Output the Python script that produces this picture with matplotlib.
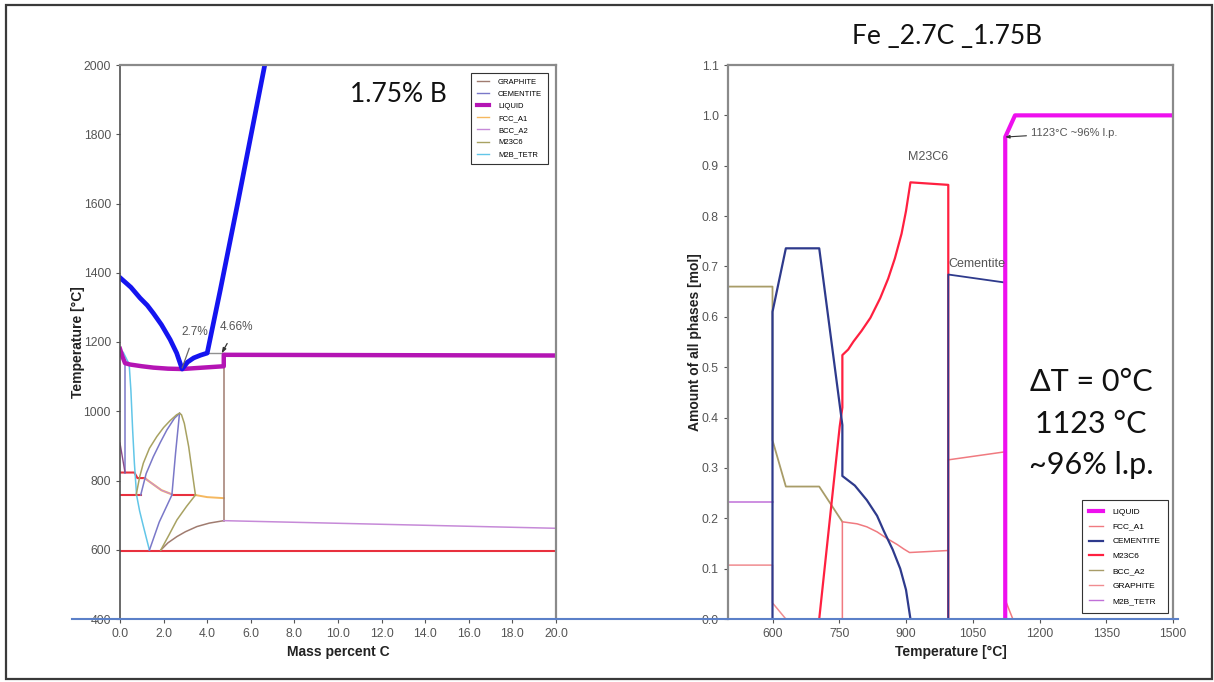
import matplotlib
matplotlib.use("Agg")
import matplotlib.pyplot as plt
from matplotlib.lines import Line2D
from matplotlib.patches import Rectangle

plt.rcParams['font.family'] = ['Liberation Sans', 'DejaVu Sans']

# ---------------- isopleth: Fe-1.75B vs. mass percent C ----------------
liquidus_c = [0.0, 0.5, 0.92, 1.25, 1.53, 1.9, 2.30, 2.6, 2.85, 3.1, 3.38, 3.7, 4.0, 4.6, 5.38, 6.64]
liquidus_t = [1386, 1358, 1327, 1306, 1283, 1250, 1207, 1168, 1122, 1142, 1154, 1162, 1168, 1350, 1595, 2000]

liq_c = [0.0, 0.1, 0.23, 0.46, 1.0, 1.53, 2.2, 2.85, 3.8, 4.76, 4.76, 12.0, 20.0]
liq_t = [1180, 1160, 1139, 1135, 1130, 1126, 1123, 1122, 1126, 1130, 1163, 1162, 1161]

eut_c = [4.0, 4.76]
eut_t = [1167, 1167]

inv597_c = [0.0, 20.0]
inv597_t = [597, 597]
inv823_c = [0.0, 0.66, 0.8, 1.15]
inv823_t = [823, 823, 807, 807]
inv758a_c = [0.0, 0.95]
inv758a_t = [758, 758]
inv758b_c = [2.38, 3.46]
inv758b_t = [758, 758]
slope_c = [1.15, 1.5, 1.9, 2.38]
slope_t = [806, 790, 772, 760]

fcc_c = [3.46, 4.0, 4.76]
fcc_t = [758, 752, 749]

gra_vert_c = [4.76, 4.76]
gra_vert_t = [684, 1130]
gra_curve_c = [1.87, 2.2, 2.61, 3.0, 3.53, 4.1, 4.76]
gra_curve_t = [599, 620, 638, 652, 667, 677, 684]

bcc_c = [4.76, 20.0]
bcc_t = [684, 662]

m2b_c = [0.15, 0.42, 0.50, 0.58, 0.66, 0.76, 0.9, 1.04, 1.2, 1.35]
m2b_t = [1170, 1136, 1060, 946, 850, 758, 712, 676, 636, 599]

cem_v_c = [0.23, 0.23]
cem_v_t = [1136, 823]
cem_s_c = [0.0, 0.23]
cem_s_t = [908, 823]
cem1_c = [1.35, 1.8, 2.38]
cem1_t = [599, 680, 758]
cem2_c = [2.38, 2.55, 2.73]
cem2_t = [758, 880, 994]
cem3_c = [0.95, 1.2, 1.53, 1.85, 2.15, 2.5, 2.73]
cem3_t = [758, 820, 869, 910, 946, 980, 994]

m23_1_c = [0.74, 0.9, 1.07, 1.35, 1.69, 2.0, 2.30, 2.6, 2.73]
m23_1_t = [758, 810, 850, 893, 927, 953, 973, 990, 994]
m23_2_c = [2.73, 2.82, 2.95, 3.15, 3.3, 3.46]
m23_2_t = [994, 990, 965, 898, 830, 758]
m23_3_c = [1.87, 2.25, 2.61, 3.05, 3.46]
m23_3_t = [599, 643, 686, 725, 758]

left_xticks = [0, 2, 4, 6, 8, 10, 12, 14, 16, 18, 20]
left_yticks = [400, 600, 800, 1000, 1200, 1400, 1600, 1800, 2000]

# ---------------- step diagram: Fe_2.7C_1.75B phase amounts ----------------
liq_T = [1123, 1123, 1145, 1500]
liq_n = [0.0, 0.957, 1.0, 1.0]

fcc_T = [757, 757, 790, 812, 835, 857, 880, 895, 908, 995, 995, 1123, 1123, 1140]
fcc_n = [0.0, 0.193, 0.189, 0.183, 0.173, 0.160, 0.148, 0.139, 0.132, 0.136, 0.316, 0.332, 0.038, 0.0]

cem_a_T = [600, 600, 630, 705, 757, 757, 785, 812, 835, 850, 870, 887, 900, 910]
cem_a_n = [0.0, 0.61, 0.736, 0.736, 0.385, 0.284, 0.265, 0.236, 0.205, 0.175, 0.138, 0.100, 0.058, 0.0]
cem_b_T = [995, 995, 1123, 1123]
cem_b_n = [0.0, 0.684, 0.668, 0.0]

m23_T = [705, 751, 757, 757, 770, 782, 800, 820, 842, 860, 875, 890, 900, 910, 995, 995]
m23_n = [0.0, 0.382, 0.42, 0.524, 0.535, 0.551, 0.572, 0.598, 0.637, 0.676, 0.716, 0.765, 0.81, 0.867, 0.862, 0.0]

bcc_T = [500, 600, 600, 630, 705, 757]
bcc_n = [0.66, 0.66, 0.355, 0.263, 0.263, 0.193]

gra_T = [500, 600, 600, 630]
gra_n = [0.107, 0.107, 0.032, 0.0]

m2b_T = [500, 600]
m2b_n = [0.232, 0.232]

right_xticks = [600, 750, 900, 1050, 1200, 1350, 1500]
right_yticks = [0.0, 0.1, 0.2, 0.3, 0.4, 0.5, 0.6, 0.7, 0.8, 0.9, 1.0, 1.1]

W, H = 1214, 682
fig = plt.figure(figsize=(W / 100, H / 100), dpi=100)

def box(x0, y0, x1, y1):
    return [x0 / W, 1 - y1 / H, (x1 - x0) / W, (y1 - y0) / H]

ax1 = fig.add_axes(box(120, 65, 556, 619))
ax2 = fig.add_axes(box(728, 65, 1173, 619))

tick_col = '#555555'
for ax in (ax1, ax2):
    ax.tick_params(axis='both', colors=tick_col, labelcolor=tick_col,
                   length=3, width=0.8, labelsize=8.8, direction='out')
    for s in ('top', 'right', 'left'):
        ax.spines[s].set_color('#8a8a8a')
        ax.spines[s].set_linewidth(1.6)
    ax.spines['bottom'].set_visible(False)

# colours
C_GRA = '#a07c70'
C_CEM = '#7a78c8'
C_LIQ = '#b414b4'
C_FCC = '#f5b860'
C_BCC = '#c68ad8'
C_M23 = '#a8a262'
C_M2B = '#62c6e8'
C_RED = '#e8303e'

ax1.plot(inv597_c, inv597_t, color=C_RED, lw=1.5)
ax1.plot(inv823_c, inv823_t, color=C_RED, lw=1.5)
ax1.plot(inv758a_c, inv758a_t, color=C_RED, lw=1.5)
ax1.plot(inv758b_c, inv758b_t, color=C_RED, lw=1.5)
ax1.plot(slope_c, slope_t, color=C_FCC, lw=1.6)
ax1.plot(slope_c, slope_t, color=C_BCC, lw=0.8)
ax1.plot(fcc_c, fcc_t, color=C_FCC, lw=1.4)
ax1.plot(gra_vert_c, gra_vert_t, color=C_GRA, lw=1.1)
ax1.plot(gra_curve_c, gra_curve_t, color=C_GRA, lw=1.1)
ax1.plot(bcc_c, bcc_t, color=C_BCC, lw=1.1)
ax1.plot(m2b_c, m2b_t, color=C_M2B, lw=1.1)
ax1.plot(cem_v_c, cem_v_t, color=C_CEM, lw=1.1)
ax1.plot(cem_s_c, cem_s_t, color='#8a4a8a', lw=1.0)
for cc, tt in ((cem1_c, cem1_t), (cem2_c, cem2_t), (cem3_c, cem3_t)):
    ax1.plot(cc, tt, color=C_CEM, lw=1.1)
for cc, tt in ((m23_1_c, m23_1_t), (m23_2_c, m23_2_t), (m23_3_c, m23_3_t)):
    ax1.plot(cc, tt, color=C_M23, lw=1.1)
ax1.plot(eut_c, eut_t, color='#909090', lw=1.0)
ax1.plot(liq_c, liq_t, color=C_LIQ, lw=3.2, solid_joinstyle='round')
ax1.plot(liquidus_c, liquidus_t, color='#1414f0', lw=3.4, solid_joinstyle='round')

ax1.annotate('2.7%', xy=(2.85, 1125), xytext=(2.84, 1230), fontsize=8.5,
             color='#555555', ha='left', va='center',
             arrowprops=dict(arrowstyle='-', color='#666666', lw=0.9,
                             shrinkA=6, shrinkB=0))
ax1.annotate('4.66%', xy=(4.66, 1167), xytext=(4.56, 1242), fontsize=8.5,
             color='#555555', ha='left', va='center',
             arrowprops=dict(arrowstyle='-|>,head_length=0.35,head_width=0.12',
                             color='#333333', lw=0.9, shrinkA=6, shrinkB=0))

ax1.set_xlim(0, 20)
ax1.set_ylim(400, 2000)
ax1.set_xticks(left_xticks)
ax1.set_xticklabels([f'{v:.1f}' for v in left_xticks])
ax1.set_yticks(left_yticks)
ax1.set_yticklabels([str(v) for v in left_yticks])
ax1.spines['left'].set_color('#505050')
ax1.spines['left'].set_linewidth(1.2)
ax1.set_xlabel('Mass percent C', fontsize=10, fontweight='bold', color='#222222')
ax1.set_ylabel('Temperature [°C]', fontsize=10, fontweight='bold', color='#222222')
ax1.xaxis.set_label_coords(0.5, -0.047)
ax1.yaxis.set_label_coords(-0.08, 0.5)

h1 = [Line2D([], [], color=C_GRA, lw=1.0), Line2D([], [], color=C_CEM, lw=1.0),
      Line2D([], [], color=C_LIQ, lw=3.0), Line2D([], [], color=C_FCC, lw=1.0),
      Line2D([], [], color=C_BCC, lw=1.0), Line2D([], [], color=C_M23, lw=1.0),
      Line2D([], [], color=C_M2B, lw=1.0)]
l1 = ['GRAPHITE', 'CEMENTITE', 'LIQUID', 'FCC_A1', 'BCC_A2', 'M23C6', 'M2B_TETR']
leg1 = ax1.legend(h1, l1, loc='upper right', bbox_to_anchor=(0.99, 0.993),
                  fontsize=5.5, handlelength=1.6, labelspacing=0.62,
                  handletextpad=1.2, borderpad=0.75, fancybox=False,
                  framealpha=1, edgecolor='#333333')
leg1.get_frame().set_linewidth(0.8)

# right panel
R_LIQ = '#ee10ee'
R_FCC = '#f07a80'
R_CEM = '#2e3a8c'
R_M23 = '#ff2040'
R_BCC = '#a89c68'
R_GRA = '#f08c90'
R_M2B = '#c070d8'

ax2.plot(m2b_T, m2b_n, color=R_M2B, lw=1.1)
ax2.plot(gra_T, gra_n, color=R_GRA, lw=1.1)
ax2.plot(bcc_T, bcc_n, color=R_BCC, lw=1.3)
ax2.plot(fcc_T, fcc_n, color=R_FCC, lw=1.1)
ax2.plot(m23_T, m23_n, color=R_M23, lw=1.6)
ax2.plot(cem_a_T, cem_a_n, color=R_CEM, lw=1.6)
ax2.plot(cem_b_T, cem_b_n, color=R_CEM, lw=1.3)
ax2.plot(liq_T, liq_n, color=R_LIQ, lw=3.0)

ax2.text(950, 0.917, 'M23C6', fontsize=9, color='#555555', ha='center', va='center')
ax2.text(995, 0.705, 'Cementite', fontsize=9, color='#555555', ha='left', va='center')
ax2.annotate('1123°C ~96% l.p.', xy=(1123, 0.957), xytext=(1180, 0.965),
             fontsize=8, color='#555555', ha='left', va='center',
             arrowprops=dict(arrowstyle='-|>,head_length=0.3,head_width=0.12',
                             color='#333333', lw=0.8, shrinkA=1, shrinkB=0))

ax2.set_xlim(500, 1500)
ax2.set_ylim(0, 1.1)
ax2.set_xticks(right_xticks)
ax2.set_xticklabels([str(v) for v in right_xticks])
ax2.set_yticks(right_yticks)
ax2.set_yticklabels([f'{v:.1f}' for v in right_yticks])
ax2.set_xlabel('Temperature [°C]', fontsize=10, fontweight='bold', color='#222222')
ax2.set_ylabel('Amount of all phases [mol]', fontsize=10, fontweight='bold', color='#222222')
ax2.xaxis.set_label_coords(0.5, -0.047)
ax2.yaxis.set_label_coords(-0.058, 0.5)

h2 = [Line2D([], [], color=R_LIQ, lw=3.0), Line2D([], [], color=R_FCC, lw=1.0),
      Line2D([], [], color=R_CEM, lw=1.6), Line2D([], [], color=R_M23, lw=1.6),
      Line2D([], [], color=R_BCC, lw=1.0), Line2D([], [], color=R_GRA, lw=1.0),
      Line2D([], [], color=R_M2B, lw=1.0)]
l2 = ['LIQUID', 'FCC_A1', 'CEMENTITE', 'M23C6', 'BCC_A2', 'GRAPHITE', 'M2B_TETR']
leg2 = ax2.legend(h2, l2, loc='lower right', bbox_to_anchor=(0.998, 0.004),
                  fontsize=6, handlelength=1.6, labelspacing=0.85,
                  handletextpad=1.2, borderpad=0.9, fancybox=False,
                  framealpha=1, edgecolor='#333333')
leg2.get_frame().set_linewidth(0.8)

# texts on the slide
fig.text(947 / W, 1 - 37 / H, 'Fe _2.7C _1.75B', fontsize=19, family=['Lato', 'DejaVu Sans'],
         ha='center', va='center', color='#111111')
fig.text(398 / W, 1 - 95 / H, '1.75% B', fontsize=19, family=['Lato', 'DejaVu Sans'],
         ha='center', va='center', color='#111111')
for txt, ypx in (('ΔT = 0°C', 382), ('1123 °C', 424), ('~96% l.p.', 465)):
    fig.text(1091 / W, 1 - ypx / H, txt, fontsize=22, family=['Lato', 'DejaVu Sans'],
             ha='center', va='center', color='#111111')

# baseline across both panels
fig.add_artist(Line2D([72 / W, 1178 / W], [1 - 619 / H, 1 - 619 / H],
                      color='#5b80c8', lw=1.5))
# slide frame
fig.add_artist(Rectangle((6 / W, 1 - 679 / H), (1212 - 6) / W, (679 - 4.5) / H,
                         fill=False, edgecolor='#3a3a3a', lw=1.6))

fig.savefig('out.png', dpi=100)
